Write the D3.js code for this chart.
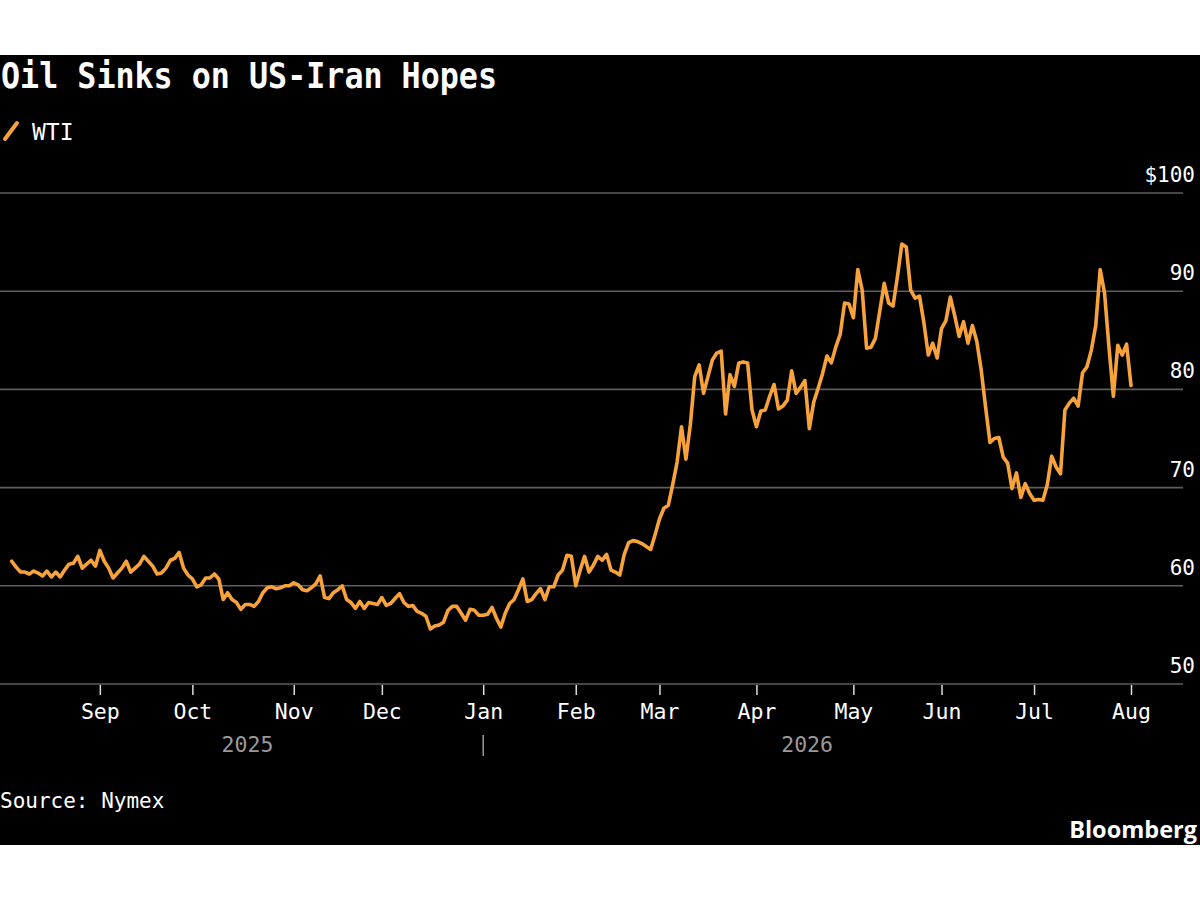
<!DOCTYPE html>
<html><head><meta charset="utf-8">
<script src="https://cdn.jsdelivr.net/npm/d3@7/dist/d3.min.js"></script>
<style>body{margin:0;background:#fff} svg{display:block}</style>
</head><body><svg id="c" width="1200" height="900"></svg>
<script>
const titleText = "Oil Sinks on US-Iran Hopes";
const seriesName = "WTI";
const sourceText = "Source: Nymex";
const brandText = "Bloomberg";
const yTicks = [50, 60, 70, 80, 90, 100];
const yearLabels = ["2025", "2026"];
// trading sessions plotted (one point each)
const dates = [
"2025-08-04","2025-08-05","2025-08-06","2025-08-07","2025-08-08","2025-08-11","2025-08-12","2025-08-13","2025-08-14","2025-08-15",
"2025-08-18","2025-08-19","2025-08-20","2025-08-21","2025-08-22","2025-08-25","2025-08-26","2025-08-27","2025-08-28","2025-08-29",
"2025-09-02","2025-09-03","2025-09-04","2025-09-05","2025-09-08","2025-09-09","2025-09-10","2025-09-11","2025-09-12","2025-09-15",
"2025-09-16","2025-09-17","2025-09-18","2025-09-19","2025-09-22","2025-09-23","2025-09-24","2025-09-25","2025-09-26","2025-09-29",
"2025-09-30","2025-10-01","2025-10-02","2025-10-03","2025-10-06","2025-10-07","2025-10-08","2025-10-09","2025-10-10","2025-10-13",
"2025-10-14","2025-10-15","2025-10-16","2025-10-17","2025-10-20","2025-10-21","2025-10-22","2025-10-23","2025-10-24","2025-10-27",
"2025-10-28","2025-10-29","2025-10-30","2025-10-31","2025-11-03","2025-11-04","2025-11-05","2025-11-06","2025-11-07","2025-11-10",
"2025-11-11","2025-11-12","2025-11-13","2025-11-14","2025-11-17","2025-11-18","2025-11-19","2025-11-20","2025-11-21","2025-11-24",
"2025-11-25","2025-11-26","2025-11-27","2025-11-28","2025-12-01","2025-12-02","2025-12-03","2025-12-04","2025-12-05","2025-12-08",
"2025-12-09","2025-12-10","2025-12-11","2025-12-12","2025-12-15","2025-12-16","2025-12-17","2025-12-18","2025-12-19","2025-12-22",
"2025-12-23","2025-12-24","2025-12-25","2025-12-26","2025-12-29","2025-12-30","2025-12-31","2026-01-02","2026-01-05","2026-01-06",
"2026-01-07","2026-01-08","2026-01-09","2026-01-12","2026-01-13","2026-01-14","2026-01-15","2026-01-16","2026-01-19","2026-01-20",
"2026-01-21","2026-01-22","2026-01-23","2026-01-26","2026-01-27","2026-01-28","2026-01-29","2026-01-30","2026-02-02","2026-02-03",
"2026-02-04","2026-02-05","2026-02-06","2026-02-09","2026-02-10","2026-02-11","2026-02-12","2026-02-13","2026-02-17","2026-02-18",
"2026-02-19","2026-02-20","2026-02-23","2026-02-24","2026-02-25","2026-02-26","2026-02-27","2026-03-02","2026-03-03","2026-03-04",
"2026-03-05","2026-03-06","2026-03-09","2026-03-10","2026-03-11","2026-03-12","2026-03-13","2026-03-16","2026-03-17","2026-03-18",
"2026-03-19","2026-03-20","2026-03-23","2026-03-24","2026-03-25","2026-03-26","2026-03-27","2026-03-30","2026-03-31","2026-04-01",
"2026-04-02","2026-04-03","2026-04-06","2026-04-07","2026-04-08","2026-04-09","2026-04-10","2026-04-13","2026-04-14","2026-04-15",
"2026-04-16","2026-04-17","2026-04-20","2026-04-21","2026-04-22","2026-04-23","2026-04-24","2026-04-27","2026-04-28","2026-04-29",
"2026-04-30","2026-05-01","2026-05-04","2026-05-05","2026-05-06","2026-05-07","2026-05-08","2026-05-11","2026-05-12","2026-05-13",
"2026-05-14","2026-05-15","2026-05-18","2026-05-19","2026-05-20","2026-05-21","2026-05-22","2026-05-26","2026-05-27","2026-05-28",
"2026-05-29","2026-06-01","2026-06-02","2026-06-03","2026-06-04","2026-06-05","2026-06-08","2026-06-09","2026-06-10","2026-06-11",
"2026-06-12","2026-06-15","2026-06-16","2026-06-17","2026-06-18","2026-06-22","2026-06-23","2026-06-24","2026-06-25","2026-06-26",
"2026-06-29","2026-06-30","2026-07-01","2026-07-02","2026-07-06","2026-07-07","2026-07-08","2026-07-09","2026-07-10","2026-07-13",
"2026-07-14","2026-07-15","2026-07-16","2026-07-17","2026-07-20","2026-07-21","2026-07-22","2026-07-23","2026-07-24","2026-07-27",
"2026-07-28","2026-07-29","2026-07-30","2026-07-31","2026-08-03"
];
// WTI settlement, $ per barrel
const values = [
62.5,61.9,61.4,61.4,61.2,61.5,61.3,61.0,61.5,60.9,
61.4,60.9,61.6,62.2,62.3,63.0,61.8,62.2,62.6,62.0,
63.6,62.5,61.8,60.8,61.3,61.8,62.5,61.4,61.8,62.2,
63.0,62.5,62.0,61.2,61.3,61.8,62.6,62.8,63.4,61.8,
61.1,60.7,59.9,60.1,60.8,60.8,61.2,60.7,58.6,59.3,
58.6,58.3,57.6,58.1,58.1,57.9,58.4,59.3,59.8,59.9,
59.7,59.8,60.0,60.0,60.3,60.1,59.6,59.5,59.8,60.2,
61.0,58.8,58.7,59.3,59.6,60.0,58.6,58.3,57.7,58.4,
57.7,58.3,58.2,58.1,58.8,58.0,58.2,58.7,59.2,58.3,
57.9,58.0,57.4,57.2,56.9,55.6,55.9,56.0,56.3,57.5,
57.9,57.9,57.2,56.5,57.6,57.5,57.0,57.0,57.1,57.8,
56.7,55.8,57.2,58.2,58.6,59.6,60.7,58.4,58.6,59.2,
59.7,58.6,59.9,59.9,61.1,61.6,63.1,63.0,60.0,61.6,
63.0,61.4,62.1,63.0,62.6,63.2,61.6,61.4,61.1,63.2,
64.4,64.6,64.5,64.3,64.0,63.7,65.2,66.8,67.9,68.2,
70.3,72.6,76.2,72.9,76.4,81.3,82.5,79.6,81.3,83.0,
83.7,83.9,77.5,81.5,80.3,82.7,82.8,82.7,77.9,76.2,
77.8,77.9,79.3,80.5,78.0,78.3,78.9,81.9,79.6,80.2,
80.9,76.0,78.7,80.1,81.6,83.4,82.7,84.3,85.6,88.8,
88.7,87.3,92.2,90.1,84.2,84.3,85.2,88.0,90.8,88.8,
88.5,91.5,94.8,94.5,90.1,89.3,89.5,86.8,83.5,84.7,
83.2,86.2,87.0,89.4,87.5,85.4,86.9,84.7,86.5,84.9,
82.0,78.2,74.6,75.0,75.1,73.1,72.5,69.9,71.5,69.0,
70.4,69.4,68.7,68.8,68.7,70.3,73.2,72.1,71.4,77.9,
78.6,79.1,78.3,81.7,82.3,84.0,86.5,92.2,89.8,84.3,
79.3,84.5,83.5,84.6,80.4
];

const W = 1200;
const mono = "'DejaVu Sans Mono', monospace";
const orange = "#f7a23a";
const svg = d3.select("#c");
const parse = d3.timeParse("%Y-%m-%d");
const monthFmt = d3.timeFormat("%b");
const data = dates.map((d, i) => ({ key: d, date: parse(d), value: values[i] }));

svg.append("rect").attr("x", 0).attr("y", 55).attr("width", W).attr("height", 790).attr("fill", "#000");

// one slot per trading session, as on the terminal chart
const x = d3.scalePoint().domain(dates).range([11.7, 1131]);
const y = d3.scaleLinear().domain([50, 100]).range([684, 193]);

// gridlines
svg.append("g").selectAll("line").data(yTicks).join("line")
  .attr("x1", 0).attr("x2", 1183)
  .attr("y1", d => y(d)).attr("y2", d => y(d))
  .attr("stroke", "#5e5e5e").attr("stroke-width", 1.6);

// y labels
svg.append("g").selectAll("text").data(yTicks).join("text")
  .attr("x", 1195).attr("y", d => y(d) - 11)
  .attr("text-anchor", "end")
  .attr("fill", "#fff").attr("font-family", mono).attr("font-size", 21)
  .text(d => d === 100 ? "$" + d : d);

// x axis: first session of each month (from Sep)
const firstOfMonth = data.filter((d, i) => i > 0 && d.date.getMonth() !== data[i - 1].date.getMonth()).map(d => d.key);
const xAxis = d3.axisBottom(x).tickValues(firstOfMonth).tickFormat(d => monthFmt(parse(d))).tickSize(10).tickPadding(9);
const gx = svg.append("g").attr("transform", "translate(0,685)").call(xAxis);
gx.select(".domain").remove();
gx.selectAll(".tick line").attr("stroke", "#ddd").attr("stroke-width", 1.5);
gx.selectAll(".tick text").attr("fill", "#fff").attr("font-family", mono).attr("font-size", 21.5);

// year labels
const janKey = data.find(d => d.date.getFullYear() === 2026).key;
const yearPos = [(x(dates[0]) + x(janKey)) / 2, (x(janKey) + x(dates[dates.length - 1])) / 2];
svg.append("g").selectAll("text").data(yearLabels).join("text")
  .attr("x", (d, i) => yearPos[i]).attr("y", 752)
  .attr("text-anchor", "middle").attr("fill", "#9a9a9a")
  .attr("font-family", mono).attr("font-size", 21.5).text(d => d);
svg.append("line").attr("x1", x(janKey)).attr("x2", x(janKey)).attr("y1", 735).attr("y2", 756)
  .attr("stroke", "#9a9a9a").attr("stroke-width", 1.5);

// line
const line = d3.line().x(d => x(d.key)).y(d => y(d.value));
svg.append("path").datum(data).attr("d", line)
  .attr("fill", "none").attr("stroke", orange).attr("stroke-width", 3.6)
  .attr("stroke-linejoin", "round").attr("stroke-linecap", "round");

// title
svg.append("text").attr("x", 1).attr("y", 88).attr("fill", "#fff")
  .attr("font-family", mono).attr("font-weight", "bold").attr("font-size", 35)
  .attr("textLength", 496).attr("lengthAdjust", "spacingAndGlyphs")
  .text(titleText);

// legend
svg.append("line").attr("x1", 5).attr("y1", 139).attr("x2", 17).attr("y2", 123)
  .attr("stroke", orange).attr("stroke-width", 4).attr("stroke-linecap", "round");
svg.append("text").attr("x", 32).attr("y", 140).attr("fill", "#fff")
  .attr("font-family", mono).attr("font-size", 23).text(seriesName);

// source + brand
svg.append("text").attr("x", 0).attr("y", 808).attr("fill", "#fff")
  .attr("font-family", mono).attr("font-size", 21).text(sourceText);
svg.append("text").attr("x", 1197).attr("y", 838).attr("text-anchor", "end").attr("fill", "#fff")
  .attr("font-family", "'Open Sans', sans-serif").attr("font-weight", "bold").attr("font-size", 23.5)
  .text(brandText);
</script></body></html>
